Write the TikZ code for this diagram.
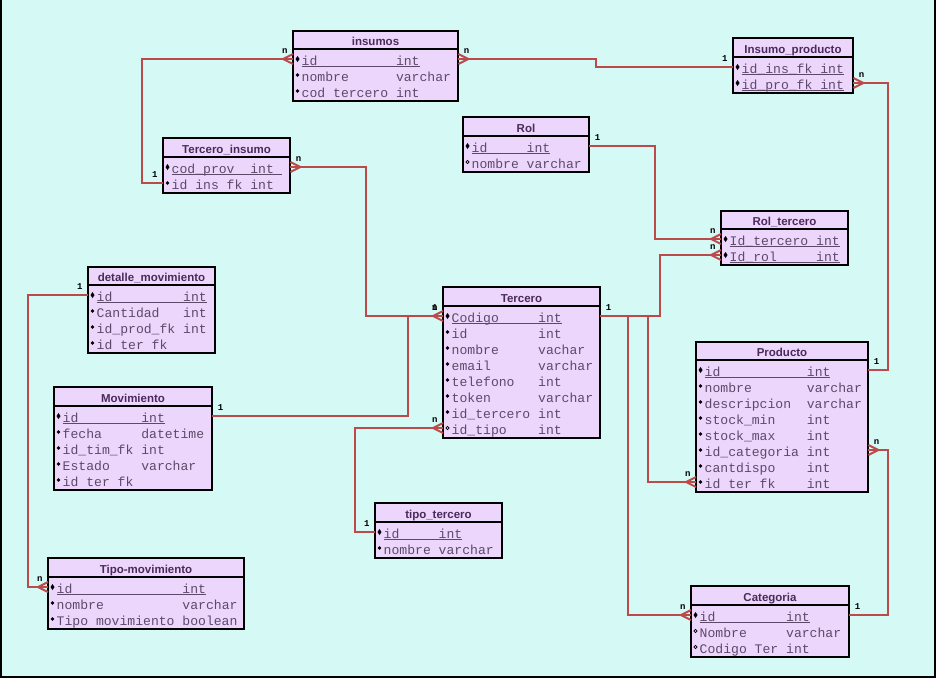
\documentclass[tikz,border=0pt]{standalone}
\usepackage{fontspec}
\setmainfont{Liberation Sans}
\setmonofont{Liberation Mono}
\usepackage{xcolor}
\usepackage{tikz}
\usetikzlibrary{decorations.markings}
\definecolor{bgcyan}{HTML}{D5F9F5}
\definecolor{lilac}{HTML}{EDD6FB}
\definecolor{linkred}{HTML}{BD4A4A}
\definecolor{darkplum}{HTML}{4A2A5C}
\definecolor{grayplum}{HTML}{5D4A6A}
\newcommand{\csp}{\hspace{0.6em}}
\newcommand{\fld}[3]{\makebox[\dimexpr #1em*6/10\relax][l]{#2}#3}
\newcommand{\pkey}[3]{\setbox0\hbox{\fld{#1}{#2}{#3}}\rlap{\rule[-1.6pt]{\wd0}{0.9pt}}\box0}

\tikzset{
  tablebox/.style={draw=black, line width=2pt, fill=lilac},
  tabtitle/.style={anchor=base, inner sep=0pt, text=darkplum, font=\bfseries\fontsize{11.5}{12}\selectfont},
  attr/.style={anchor=west, inner sep=0pt, text width=#1pt, align=left, text height=13pt, text depth=0pt,
    text=grayplum, font=\ttfamily\fontsize{13.1}{16}\selectfont, execute at begin node=\hspace*{8.5pt}},
  link/.style={draw=linkred, line width=2pt},
  crowfoot/.style={postaction={decorate, decoration={markings,
    mark=at position 1 with {\draw[link] (-10,0) -- (0,5) (-10,0) -- (0,-5);}}}},
  card/.style={inner sep=1.5pt, font=\ttfamily\bfseries\fontsize{9}{9}\selectfont}
}

\begin{document}
\begin{tikzpicture}[x=1pt, y=-1pt]
      \useasboundingbox (0,0) rectangle (936,678);
      \fill[bgcyan] (0,0) rectangle (936,678);
      \draw[line width=2pt] (1,0) -- (1,677) -- (935,677) -- (935,0);

      \draw[tablebox] (293,31) rectangle (458,101) (293,49) -- (458,49);
      \node[tabtitle] (insumos) at (375.5,45) {insumos};
      \node[attr=165] (ins-id) at (293,59) {\pkey{12}{id}{int}};
      \node[attr=165] (ins-nom) at (293,75) {\fld{12}{nombre}{varchar}};
      \node[attr=165] (ins-cod) at (293,91) {\fld{12}{cod\csp tercero}{int}};

      \draw[tablebox] (163,138) rectangle (290,193) (163,157) -- (290,157);
      \node[tabtitle] (terins) at (226.5,153) {Tercero\_insumo};
      \node[attr=127] (ti-prov) at (163,167) {\pkey{10}{cod\_prov}{int\csp}};
      \node[attr=127] (ti-ins) at (163,183) {\fld{10}{id\csp ins\csp fk}{int}};

      \draw[tablebox] (733,38) rectangle (853,93) (733,57) -- (853,57);
      \node[tabtitle] (insprod) at (793,53) {Insumo\_producto};
      \node[attr=120] (ip-ins) at (733,67) {\pkey{10}{id\_ins\_fk}{int}};
      \node[attr=120] (ip-pro) at (733,83) {\pkey{10}{id\_pro\_fk}{int}};

      \draw[tablebox] (463,117) rectangle (589,172) (463,136) -- (589,136);
      \node[tabtitle] (rol) at (526,132) {Rol};
      \node[attr=126] (rol-id) at (463,146) {\pkey{7}{id}{int}};
      \node[attr=126] (rol-nom) at (463,162) {\fld{7}{nombre}{varchar}};

      \draw[tablebox] (721,211) rectangle (848,265) (721,229) -- (848,229);
      \node[tabtitle] (roltercero) at (784.5,225) {Rol\_tercero};
      \node[attr=127] (rt-ter) at (721,239) {\pkey{11}{Id\_tercero}{int}};
      \node[attr=127] (rt-rol) at (721,255) {\pkey{11}{Id\_rol}{int}};

      \draw[tablebox] (88,267) rectangle (215,353) (88,285) -- (215,285);
      \node[tabtitle] (detmov) at (151.5,281) {detalle\_movimiento};
      \node[attr=127] (det-id) at (88,295) {\pkey{11}{id}{int}};
      \node[attr=127] (det-can) at (88,311) {\fld{11}{Cantidad}{int}};
      \node[attr=127] (det-prod) at (88,327) {\fld{11}{id\_prod\_fk}{int}};
      \node[attr=127] (det-ter) at (88,343) {id\csp ter\csp fk};

      \draw[tablebox] (54,387) rectangle (212,490) (54,406) -- (212,406);
      \node[tabtitle] (movimiento) at (133,402) {Movimiento};
      \node[attr=158] (mov-id) at (54,416) {\pkey{10}{id}{int}};
      \node[attr=158] (mov-fec) at (54,432) {\fld{10}{fecha}{datetime}};
      \node[attr=158] (mov-tim) at (54,448) {\fld{10}{id\_tim\_fk}{int}};
      \node[attr=158] (mov-est) at (54,464) {\fld{10}{Estado}{varchar}};
      \node[attr=158] (mov-ter) at (54,480) {id\csp ter\csp fk};

      \draw[tablebox] (443,287) rectangle (600,438) (443,306) -- (600,306);
      \node[tabtitle] (tercero) at (521.5,302) {Tercero};
      \node[attr=157] (ter-cod) at (443,316) {\pkey{11}{Codigo}{int}};
      \node[attr=157] (ter-id) at (443,332) {\fld{11}{id}{int}};
      \node[attr=157] (ter-nom) at (443,348) {\fld{11}{nombre}{vachar}};
      \node[attr=157] (ter-ema) at (443,364) {\fld{11}{email}{varchar}};
      \node[attr=157] (ter-tel) at (443,380) {\fld{11}{telefono}{int}};
      \node[attr=157] (ter-tok) at (443,396) {\fld{11}{token}{varchar}};
      \node[attr=157] (ter-ter) at (443,412) {\fld{11}{id\_tercero}{int}};
      \node[attr=157] (ter-tipo) at (443,428) {\fld{11}{id\_tipo}{int}};

      \draw[tablebox] (696,342) rectangle (868,492) (696,360) -- (868,360);
      \node[tabtitle] (producto) at (782,356) {Producto};
      \node[attr=172] (pro-id) at (696,370) {\pkey{13}{id}{int}};
      \node[attr=172] (pro-nom) at (696,386) {\fld{13}{nombre}{varchar}};
      \node[attr=172] (pro-des) at (696,402) {\fld{13}{descripcion}{varchar}};
      \node[attr=172] (pro-min) at (696,418) {\fld{13}{stock\_min}{int}};
      \node[attr=172] (pro-max) at (696,434) {\fld{13}{stock\_max}{int}};
      \node[attr=172] (pro-cat) at (696,450) {\fld{13}{id\_categoria}{int}};
      \node[attr=172] (pro-can) at (696,466) {\fld{13}{cantdispo}{int}};
      \node[attr=172] (pro-ter) at (696,482) {\fld{13}{id\csp ter\csp fk}{int}};

      \draw[tablebox] (375,503) rectangle (502,558) (375,522) -- (502,522);
      \node[tabtitle] (tipoter) at (438.5,518) {tipo\_tercero};
      \node[attr=127] (tt-id) at (375,532) {\pkey{7}{id}{int}};
      \node[attr=127] (tt-nom) at (375,548) {\fld{7}{nombre}{varchar}};

      \draw[tablebox] (48,558) rectangle (244,629) (48,577) -- (244,577);
      \node[tabtitle] (tipomov) at (146,573) {Tipo-movimiento};
      \node[attr=196] (tm-id) at (48,587) {\pkey{16}{id}{int}};
      \node[attr=196] (tm-nom) at (48,603) {\fld{16}{nombre}{varchar}};
      \node[attr=196] (tm-tip) at (48,619) {\fld{16}{Tipo\csp movimiento}{boolean}};

      \draw[tablebox] (691,586) rectangle (849,657) (691,605) -- (849,605);
      \node[tabtitle] (categoria) at (770,601) {Categoria};
      \node[attr=158] (cat-id) at (691,615) {\pkey{11}{id}{int}};
      \node[attr=158] (cat-nom) at (691,631) {\fld{11}{Nombre}{varchar}};
      \node[attr=158] (cat-codter) at (691,647) {\fld{11}{Codigo\csp Ter}{int}};

      \foreach \r in {ins-id,ti-prov,ip-ins,ip-pro,rol-id,rt-ter,rt-rol,det-id,mov-id,ter-cod,pro-id,tt-id,tm-id,cat-id}
        \fill ([xshift=4.5pt]\r.west) +(0,-3) -- +(2,0) -- +(0,3) -- +(-2,0) -- cycle;
      \foreach \r in {ins-nom,ins-cod,ti-ins,det-can,det-prod,det-ter,mov-fec,mov-tim,mov-est,mov-ter,
          ter-id,ter-nom,ter-ema,ter-tel,ter-tok,ter-ter,pro-nom,pro-des,pro-min,pro-max,pro-cat,pro-can,pro-ter,
          tt-nom,tm-nom,tm-tip}
        \fill ([xshift=4.5pt]\r.west) circle (1.8);
      \foreach \r in {rol-nom,ter-tipo,cat-nom,cat-codter}
        \draw[line width=0.8pt] ([xshift=4.5pt]\r.west) circle (1.6);

      \draw[link, crowfoot] (ti-ins.west) node[card, above left=3pt] {1} -- ++(-21,0) |- (ins-id.west) node[card, above left=3pt] {n};
      \draw[link, crowfoot] (ip-ins.west) node[card, above left=3pt] {1} -- ++(-137,0) |- (ins-id.east) node[card, above right=3pt] {n};
      \draw[link, crowfoot] (ter-cod.west) node[card, above left=3pt] {1} -- ++(-77,0) |- (ti-prov.east) node[card, above right=3pt] {n};
      \draw[link, crowfoot] (mov-id.east) node[card, above right=3pt] {1} -- ++(196,0) |- (ter-cod.west) node[card, above left=3pt] {n};
      \draw[link, crowfoot] (tt-id.west) node[card, above left=3pt] {1} -- ++(-20,0) |- (ter-tipo.west) node[card, above left=3pt] {n};
      \draw[link, crowfoot] (det-id.west) node[card, above left=3pt] {1} -- ++(-60,0) |- (tm-id.west) node[card, above left=3pt] {n};
      \draw[link, crowfoot] (rol-id.east) node[card, above right=3pt] {1} -- ++(66,0) |- (rt-ter.west) node[card, above left=3pt] {n};
      \draw[link, crowfoot] (ter-cod.east) node[card, above right=3pt] {1} -- ++(60,0) |- (rt-rol.west) node[card, above left=3pt] {n};
      \draw[link, crowfoot] (ter-cod.east) -- ++(48,0) |- (pro-ter.west) node[card, above left=3pt] {n};
      \draw[link, crowfoot] (ter-cod.east) -- ++(28,0) |- (cat-id.west) node[card, above left=3pt] {n};
      \draw[link, crowfoot] (pro-id.east) node[card, above right=3pt] {1} -- ++(20,0) |- (ip-pro.east) node[card, above right=3pt] {n};
      \draw[link, crowfoot] (cat-id.east) node[card, above right=3pt] {1} -- ++(39,0) |- (pro-cat.east) node[card, above right=3pt] {n};

    \end{tikzpicture}
\end{document}
